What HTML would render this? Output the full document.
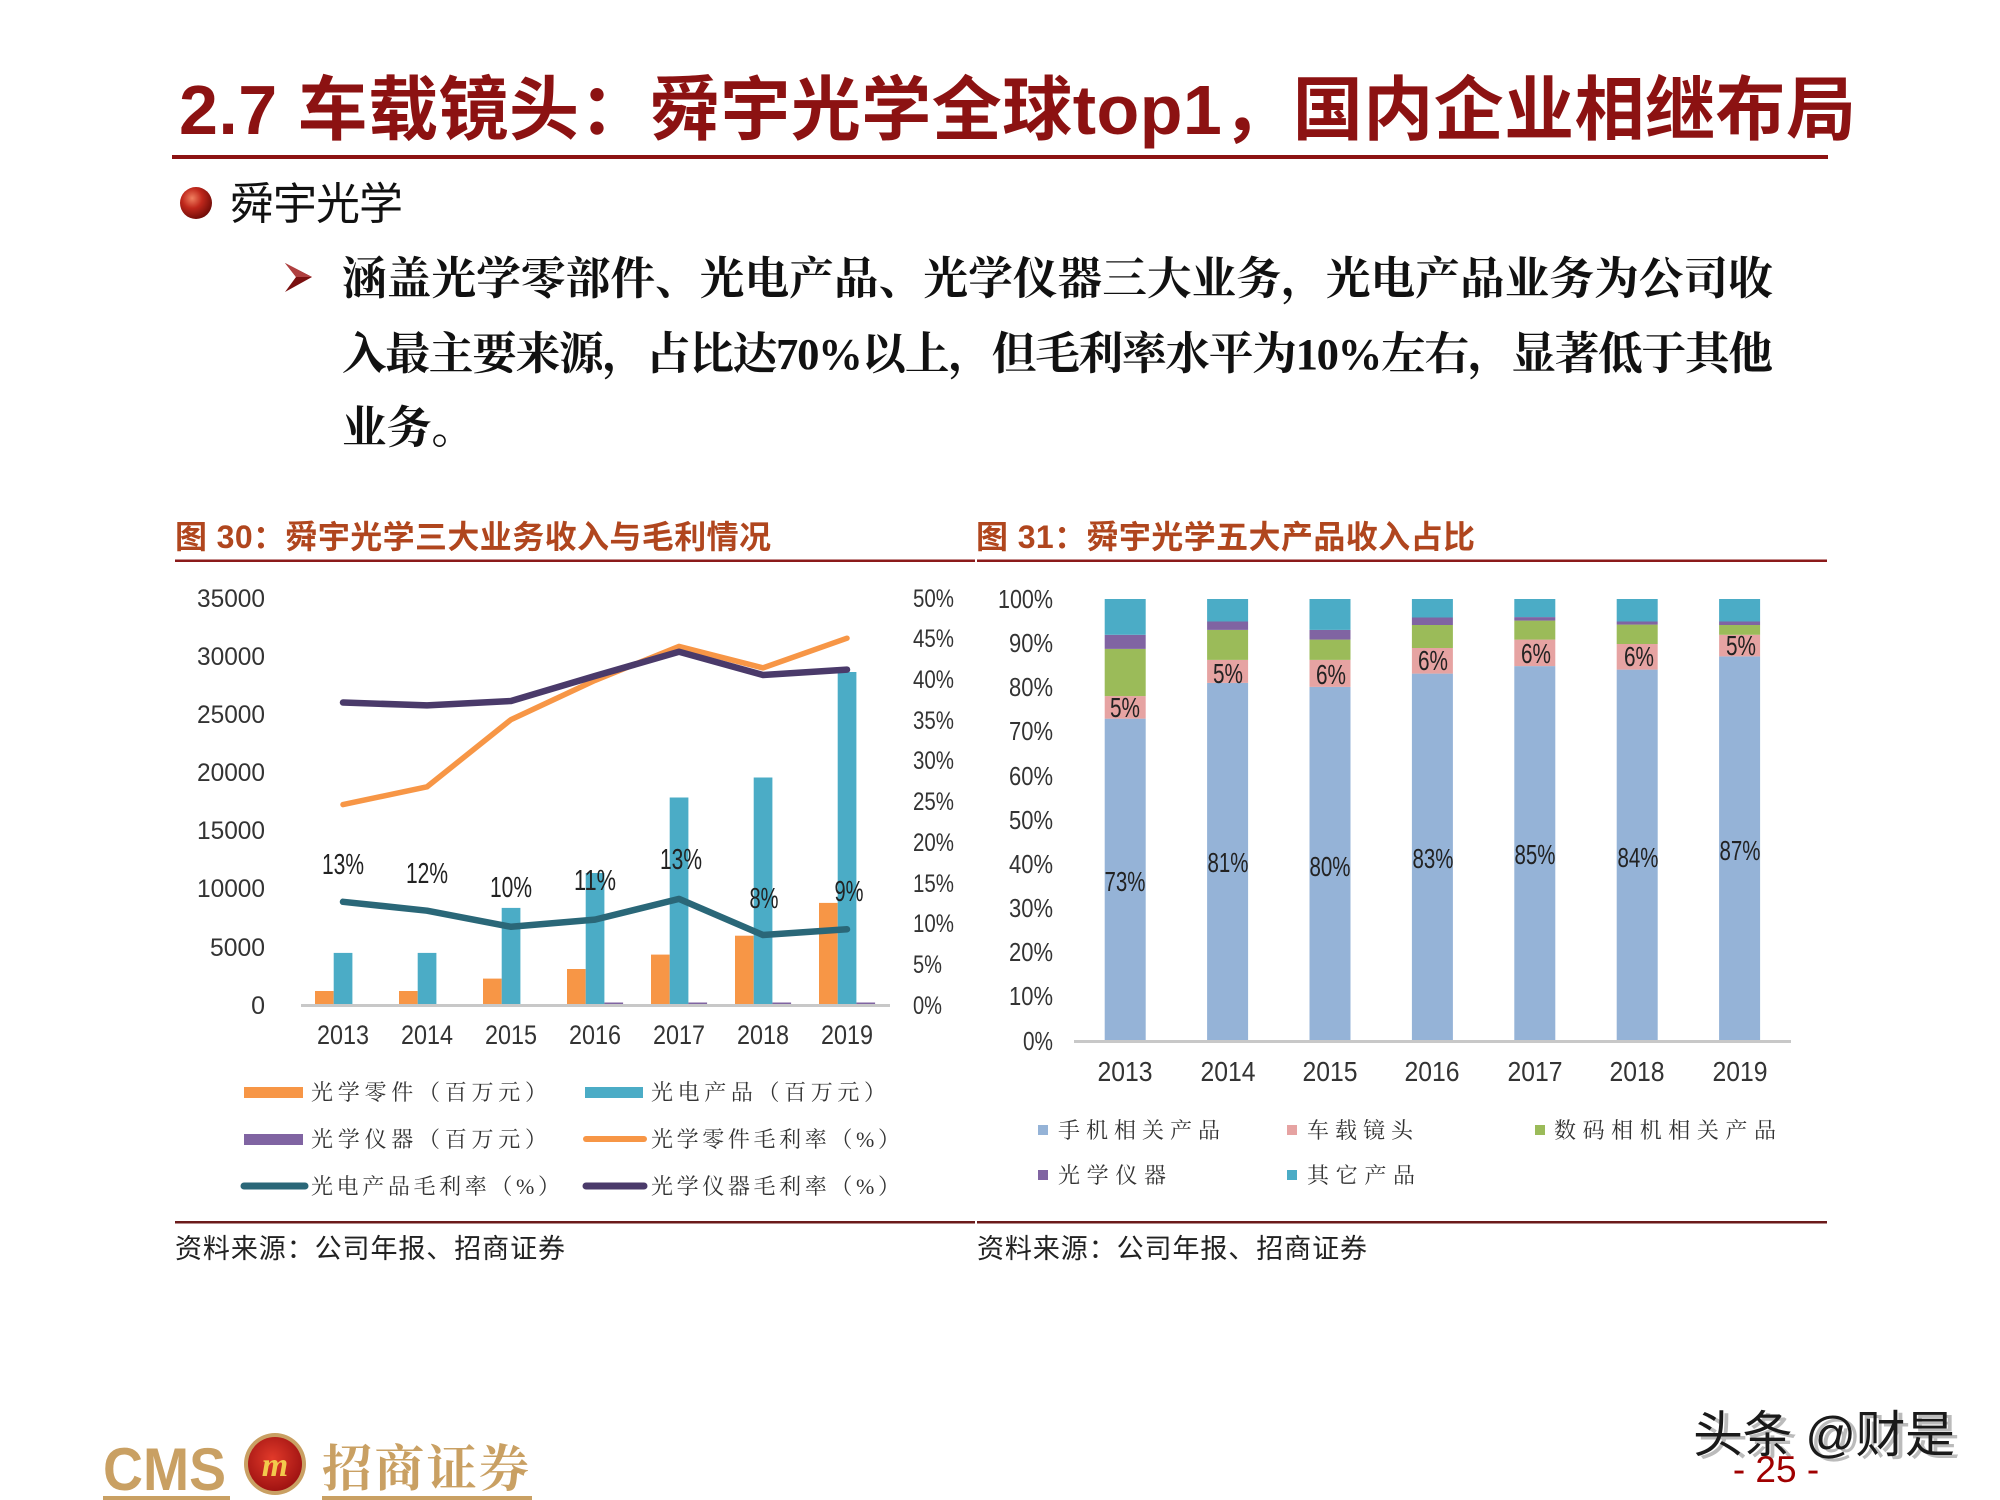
<!DOCTYPE html>
<html><head><meta charset="utf-8">
<style>
html,body{margin:0;padding:0;background:#fff;}
svg{display:block;}
.cj{font-family:"Liberation Sans","Noto Sans CJK SC",sans-serif;}
.sf{font-family:"Liberation Serif","Noto Serif CJK SC",serif;}
.ls{font-family:"Liberation Sans",sans-serif;}
</style></head>
<body>
<svg width="2000" height="1500" viewBox="0 0 2000 1500" xmlns="http://www.w3.org/2000/svg">
<defs>
<radialGradient id="ball" cx="0.38" cy="0.35" r="0.7">
<stop offset="0" stop-color="#f08060"/><stop offset="0.45" stop-color="#c0281c"/><stop offset="1" stop-color="#6a0a06"/>
</radialGradient>
<radialGradient id="logo" cx="0.45" cy="0.4" r="0.65">
<stop offset="0" stop-color="#e23a2a"/><stop offset="1" stop-color="#9a1010"/>
</radialGradient>
</defs>
<rect width="2000" height="1500" fill="#fff"/>

<!-- Title -->
<text class="cj" x="179" y="134" font-size="70" font-weight="700" fill="#8C1212" textLength="1677" lengthAdjust="spacing">2.7 车载镜头：舜宇光学全球top1，国内企业相继布局</text>
<rect x="172" y="155" width="1656" height="4" fill="#8C1212"/>

<!-- Bullet -->
<circle cx="196" cy="203" r="16" fill="url(#ball)"/>
<text class="cj" x="230" y="219" font-size="44" fill="#111" textLength="173" lengthAdjust="spacing">舜宇光学</text>

<!-- Arrow -->
<polygon points="285,263 312,277 285,292 296,277" fill="#7A1010"/>
<polygon points="285,263 312,277 296,277" fill="#b04040"/>

<text class="sf" x="342" y="294" font-size="44.7" font-weight="700" fill="#111" textLength="1431" lengthAdjust="spacing">涵盖光学零部件、光电产品、光学仪器三大业务，光电产品业务为公司收</text>
<text class="sf" x="342" y="369" font-size="44.7" font-weight="700" fill="#111" textLength="1431" lengthAdjust="spacing">入最主要来源，占比达70%以上，但毛利率水平为10%左右，显著低于其他</text>
<text class="sf" x="342" y="443" font-size="44.7" font-weight="700" fill="#111">业务。</text>

<!-- Chart titles -->
<text class="cj" x="175" y="548" font-size="32" font-weight="700" fill="#B0461E" textLength="596" lengthAdjust="spacing">图 30：舜宇光学三大业务收入与毛利情况</text>
<text class="cj" x="976" y="548" font-size="32" font-weight="700" fill="#B0461E" textLength="499" lengthAdjust="spacing">图 31：舜宇光学五大产品收入占比</text>
<rect x="175" y="559.5" width="800" height="2.5" fill="#8B1A1A"/>
<rect x="977" y="559.5" width="850" height="2.5" fill="#8B1A1A"/>

<!-- LEFT CHART -->
<g class="ls" font-size="25" fill="#333" text-anchor="end">
<text x="265" y="607" textLength="68" lengthAdjust="spacingAndGlyphs">35000</text>
<text x="265" y="665" textLength="68" lengthAdjust="spacingAndGlyphs">30000</text>
<text x="265" y="723" textLength="68" lengthAdjust="spacingAndGlyphs">25000</text>
<text x="265" y="781" textLength="68" lengthAdjust="spacingAndGlyphs">20000</text>
<text x="265" y="839" textLength="68" lengthAdjust="spacingAndGlyphs">15000</text>
<text x="265" y="897" textLength="68" lengthAdjust="spacingAndGlyphs">10000</text>
<text x="265" y="956" textLength="55" lengthAdjust="spacingAndGlyphs">5000</text>
<text x="265" y="1014">0</text>
</g>
<g class="ls" font-size="25" fill="#333">
<text x="913" y="607" textLength="41" lengthAdjust="spacingAndGlyphs">50%</text>
<text x="913" y="647" textLength="41" lengthAdjust="spacingAndGlyphs">45%</text>
<text x="913" y="688" textLength="41" lengthAdjust="spacingAndGlyphs">40%</text>
<text x="913" y="729" textLength="41" lengthAdjust="spacingAndGlyphs">35%</text>
<text x="913" y="769" textLength="41" lengthAdjust="spacingAndGlyphs">30%</text>
<text x="913" y="810" textLength="41" lengthAdjust="spacingAndGlyphs">25%</text>
<text x="913" y="851" textLength="41" lengthAdjust="spacingAndGlyphs">20%</text>
<text x="913" y="892" textLength="41" lengthAdjust="spacingAndGlyphs">15%</text>
<text x="913" y="932" textLength="41" lengthAdjust="spacingAndGlyphs">10%</text>
<text x="913" y="973" textLength="29" lengthAdjust="spacingAndGlyphs">5%</text>
<text x="913" y="1014" textLength="29" lengthAdjust="spacingAndGlyphs">0%</text>
</g>
<!-- bars -->
<g fill="#F79646">
<rect x="315" y="991" width="18.7" height="14"/>
<rect x="399" y="991" width="18.7" height="14"/>
<rect x="483" y="978.6" width="18.7" height="26.4"/>
<rect x="567" y="969" width="18.7" height="36"/>
<rect x="651" y="954.6" width="18.7" height="50.4"/>
<rect x="735" y="935.7" width="18.7" height="69.3"/>
<rect x="819" y="902.9" width="18.7" height="102.1"/>
</g>
<g fill="#4BACC6">
<rect x="333.7" y="952.9" width="18.7" height="52.1"/>
<rect x="417.7" y="952.9" width="18.7" height="52.1"/>
<rect x="501.7" y="907.9" width="18.7" height="97.1"/>
<rect x="585.7" y="873" width="18.7" height="132"/>
<rect x="669.7" y="797.5" width="18.7" height="207.5"/>
<rect x="753.7" y="777.5" width="18.7" height="227.5"/>
<rect x="837.7" y="672" width="18.7" height="333"/>
</g>
<g fill="#8064A2">
<rect x="604.4" y="1002.5" width="18.7" height="2.5"/>
<rect x="688.4" y="1002.5" width="18.7" height="2.5"/>
<rect x="772.4" y="1002.5" width="18.7" height="2.5"/>
<rect x="856.4" y="1002.5" width="18.7" height="2.5"/>
</g>
<rect x="301" y="1004" width="589" height="3" fill="#C8C8C8"/>
<!-- lines -->
<polyline points="343,804.6 427,786.8 511,719.6 595,680.4 679,646.4 763,667.9 847,638.2" fill="none" stroke="#F79646" stroke-width="5.5" stroke-linejoin="round" stroke-linecap="round"/>
<polyline points="343,702.5 427,705.4 511,701 595,676 679,651.8 763,675 847,669.6" fill="none" stroke="#4A3A6A" stroke-width="6.5" stroke-linejoin="round" stroke-linecap="round"/>
<polyline points="343,901.8 427,910.7 511,926.8 595,919.6 679,898.9 763,935 847,929.3" fill="none" stroke="#2A6778" stroke-width="6.5" stroke-linejoin="round" stroke-linecap="round"/>
<!-- data labels -->
<g class="ls" font-size="29" fill="#222" text-anchor="middle">
<text x="343" y="874" textLength="42" lengthAdjust="spacingAndGlyphs">13%</text>
<text x="427" y="883" textLength="42" lengthAdjust="spacingAndGlyphs">12%</text>
<text x="511" y="897" textLength="42" lengthAdjust="spacingAndGlyphs">10%</text>
<text x="595" y="890" textLength="42" lengthAdjust="spacingAndGlyphs">11%</text>
<text x="681" y="869" textLength="42" lengthAdjust="spacingAndGlyphs">13%</text>
<text x="764" y="908" textLength="29" lengthAdjust="spacingAndGlyphs">8%</text>
<text x="849" y="901" textLength="29" lengthAdjust="spacingAndGlyphs">9%</text>
</g>
<g class="ls" font-size="27" fill="#333" text-anchor="middle">
<text x="343" y="1044" textLength="52" lengthAdjust="spacingAndGlyphs">2013</text>
<text x="427" y="1044" textLength="52" lengthAdjust="spacingAndGlyphs">2014</text>
<text x="511" y="1044" textLength="52" lengthAdjust="spacingAndGlyphs">2015</text>
<text x="595" y="1044" textLength="52" lengthAdjust="spacingAndGlyphs">2016</text>
<text x="679" y="1044" textLength="52" lengthAdjust="spacingAndGlyphs">2017</text>
<text x="763" y="1044" textLength="52" lengthAdjust="spacingAndGlyphs">2018</text>
<text x="847" y="1044" textLength="52" lengthAdjust="spacingAndGlyphs">2019</text>
</g>
<!-- left legend -->
<g font-family="'Liberation Serif','Noto Serif CJK SC',serif" font-size="22" fill="#333">
<rect x="244" y="1087" width="59" height="11" fill="#F79646"/>
<text x="311" y="1100" textLength="236" lengthAdjust="spacing">光学零件（百万元）</text>
<rect x="585" y="1087" width="58" height="11" fill="#4BACC6"/>
<text x="651" y="1100" textLength="235" lengthAdjust="spacing">光电产品（百万元）</text>
<rect x="244" y="1134" width="59" height="11" fill="#8064A2"/>
<text x="311" y="1147" textLength="236" lengthAdjust="spacing">光学仪器（百万元）</text>
<line x1="586" y1="1139" x2="644" y2="1139" stroke="#F79646" stroke-width="6" stroke-linecap="round"/>
<text x="651" y="1147" textLength="249" lengthAdjust="spacing">光学零件毛利率（%）</text>
<line x1="244" y1="1186" x2="305" y2="1186" stroke="#2A6778" stroke-width="7" stroke-linecap="round"/>
<text x="311" y="1194" textLength="249" lengthAdjust="spacing">光电产品毛利率（%）</text>
<line x1="586" y1="1186" x2="644" y2="1186" stroke="#4A3A6A" stroke-width="7" stroke-linecap="round"/>
<text x="651" y="1194" textLength="249" lengthAdjust="spacing">光学仪器毛利率（%）</text>
</g>

<!-- RIGHT CHART -->
<g class="ls" font-size="26" fill="#333" text-anchor="end">
<text x="1053" y="608" textLength="55" lengthAdjust="spacingAndGlyphs">100%</text>
<text x="1053" y="652" textLength="44" lengthAdjust="spacingAndGlyphs">90%</text>
<text x="1053" y="696" textLength="44" lengthAdjust="spacingAndGlyphs">80%</text>
<text x="1053" y="740" textLength="44" lengthAdjust="spacingAndGlyphs">70%</text>
<text x="1053" y="785" textLength="44" lengthAdjust="spacingAndGlyphs">60%</text>
<text x="1053" y="829" textLength="44" lengthAdjust="spacingAndGlyphs">50%</text>
<text x="1053" y="873" textLength="44" lengthAdjust="spacingAndGlyphs">40%</text>
<text x="1053" y="917" textLength="44" lengthAdjust="spacingAndGlyphs">30%</text>
<text x="1053" y="961" textLength="44" lengthAdjust="spacingAndGlyphs">20%</text>
<text x="1053" y="1005" textLength="44" lengthAdjust="spacingAndGlyphs">10%</text>
<text x="1053" y="1050" textLength="30" lengthAdjust="spacingAndGlyphs">0%</text>
</g>
<!-- stacks: blue, pink, green, purple, teal -->
<g>
<rect x="1104.7" y="718.65" width="41" height="321.85" fill="#95B3D7"/>
<rect x="1104.7" y="696.1" width="41" height="22.55" fill="#E6A3A2"/>
<rect x="1104.7" y="648.9" width="41" height="47.2" fill="#9BBB59"/>
<rect x="1104.7" y="634.8" width="41" height="14.1" fill="#8064A2"/>
<rect x="1104.7" y="599" width="41" height="35.8" fill="#4BACC6"/>

<rect x="1207.1" y="682.9" width="41" height="357.6" fill="#95B3D7"/>
<rect x="1207.1" y="659.9" width="41" height="23" fill="#E6A3A2"/>
<rect x="1207.1" y="629.9" width="41" height="30" fill="#9BBB59"/>
<rect x="1207.1" y="621.5" width="41" height="8.4" fill="#8064A2"/>
<rect x="1207.1" y="599" width="41" height="22.5" fill="#4BACC6"/>

<rect x="1309.5" y="686.9" width="41" height="353.6" fill="#95B3D7"/>
<rect x="1309.5" y="659.9" width="41" height="27" fill="#E6A3A2"/>
<rect x="1309.5" y="639.6" width="41" height="20.3" fill="#9BBB59"/>
<rect x="1309.5" y="629.9" width="41" height="9.7" fill="#8064A2"/>
<rect x="1309.5" y="599" width="41" height="30.9" fill="#4BACC6"/>

<rect x="1411.9" y="673.6" width="41" height="366.9" fill="#95B3D7"/>
<rect x="1411.9" y="648" width="41" height="25.6" fill="#E6A3A2"/>
<rect x="1411.9" y="625" width="41" height="23" fill="#9BBB59"/>
<rect x="1411.9" y="617.5" width="41" height="7.5" fill="#8064A2"/>
<rect x="1411.9" y="599" width="41" height="18.5" fill="#4BACC6"/>

<rect x="1514.3" y="666.1" width="41" height="374.4" fill="#95B3D7"/>
<rect x="1514.3" y="639.6" width="41" height="26.5" fill="#E6A3A2"/>
<rect x="1514.3" y="620.6" width="41" height="19" fill="#9BBB59"/>
<rect x="1514.3" y="617.1" width="41" height="3.5" fill="#8064A2"/>
<rect x="1514.3" y="599" width="41" height="18.1" fill="#4BACC6"/>

<rect x="1616.7" y="669.6" width="41" height="370.9" fill="#95B3D7"/>
<rect x="1616.7" y="644" width="41" height="25.6" fill="#E6A3A2"/>
<rect x="1616.7" y="624.6" width="41" height="19.4" fill="#9BBB59"/>
<rect x="1616.7" y="621.5" width="41" height="3.1" fill="#8064A2"/>
<rect x="1616.7" y="599" width="41" height="22.5" fill="#4BACC6"/>

<rect x="1719.1" y="656.4" width="41" height="384.1" fill="#95B3D7"/>
<rect x="1719.1" y="634.8" width="41" height="21.6" fill="#E6A3A2"/>
<rect x="1719.1" y="625" width="41" height="9.8" fill="#9BBB59"/>
<rect x="1719.1" y="621.5" width="41" height="3.5" fill="#8064A2"/>
<rect x="1719.1" y="599" width="41" height="22.5" fill="#4BACC6"/>
</g>
<rect x="1074" y="1040" width="717" height="3" fill="#C8C8C8"/>
<g class="ls" font-size="28" fill="#222" text-anchor="middle">
<text x="1125" y="891" textLength="41" lengthAdjust="spacingAndGlyphs">73%</text>
<text x="1228" y="872" textLength="41" lengthAdjust="spacingAndGlyphs">81%</text>
<text x="1330" y="876" textLength="41" lengthAdjust="spacingAndGlyphs">80%</text>
<text x="1433" y="868" textLength="41" lengthAdjust="spacingAndGlyphs">83%</text>
<text x="1535" y="864" textLength="41" lengthAdjust="spacingAndGlyphs">85%</text>
<text x="1638" y="867" textLength="41" lengthAdjust="spacingAndGlyphs">84%</text>
<text x="1740" y="860" textLength="41" lengthAdjust="spacingAndGlyphs">87%</text>
<text x="1125" y="717" textLength="30" lengthAdjust="spacingAndGlyphs">5%</text>
<text x="1228" y="683" textLength="30" lengthAdjust="spacingAndGlyphs">5%</text>
<text x="1331" y="684" textLength="30" lengthAdjust="spacingAndGlyphs">6%</text>
<text x="1433" y="670" textLength="30" lengthAdjust="spacingAndGlyphs">6%</text>
<text x="1536" y="663" textLength="30" lengthAdjust="spacingAndGlyphs">6%</text>
<text x="1639" y="666" textLength="30" lengthAdjust="spacingAndGlyphs">6%</text>
<text x="1741" y="655" textLength="30" lengthAdjust="spacingAndGlyphs">5%</text>
</g>
<g class="ls" font-size="28" fill="#333" text-anchor="middle">
<text x="1125" y="1081" textLength="55" lengthAdjust="spacingAndGlyphs">2013</text>
<text x="1228" y="1081" textLength="55" lengthAdjust="spacingAndGlyphs">2014</text>
<text x="1330" y="1081" textLength="55" lengthAdjust="spacingAndGlyphs">2015</text>
<text x="1432" y="1081" textLength="55" lengthAdjust="spacingAndGlyphs">2016</text>
<text x="1535" y="1081" textLength="55" lengthAdjust="spacingAndGlyphs">2017</text>
<text x="1637" y="1081" textLength="55" lengthAdjust="spacingAndGlyphs">2018</text>
<text x="1740" y="1081" textLength="55" lengthAdjust="spacingAndGlyphs">2019</text>
</g>
<!-- right legend -->
<g font-family="'Liberation Serif','Noto Serif CJK SC',serif" font-size="22" fill="#333">
<rect x="1038" y="1125" width="10" height="10" fill="#95B3D7"/>
<text x="1058" y="1138" textLength="162" lengthAdjust="spacing">手机相关产品</text>
<rect x="1287" y="1125" width="10" height="10" fill="#E6A3A2"/>
<text x="1307" y="1138" textLength="106" lengthAdjust="spacing">车载镜头</text>
<rect x="1535" y="1125" width="10" height="10" fill="#9BBB59"/>
<text x="1554" y="1138" textLength="222" lengthAdjust="spacing">数码相机相关产品</text>
<rect x="1038" y="1170" width="10" height="10" fill="#8064A2"/>
<text x="1058" y="1183" textLength="108" lengthAdjust="spacing">光学仪器</text>
<rect x="1287" y="1170" width="10" height="10" fill="#4BACC6"/>
<text x="1307" y="1183" textLength="108" lengthAdjust="spacing">其它产品</text>
</g>

<!-- source lines -->
<rect x="175" y="1221" width="800" height="2.5" fill="#6B1A1A"/>
<rect x="977" y="1221" width="850" height="2.5" fill="#6B1A1A"/>
<text class="cj" x="175" y="1258" font-size="27" fill="#222" textLength="390" lengthAdjust="spacing">资料来源：公司年报、招商证券</text>
<text class="cj" x="977" y="1258" font-size="27" fill="#222" textLength="390" lengthAdjust="spacing">资料来源：公司年报、招商证券</text>

<!-- footer logo -->
<text class="ls" x="103" y="1490" font-size="60" font-weight="700" fill="#C9A063" textLength="123" lengthAdjust="spacingAndGlyphs">CMS</text>
<rect x="103" y="1496" width="127" height="4" fill="#C9A063"/>
<circle cx="275" cy="1464" r="31" fill="#C9A063"/>
<circle cx="275" cy="1464" r="27" fill="url(#logo)"/>
<text class="sf" x="275" y="1476" font-size="34" font-weight="700" font-style="italic" fill="#F2C94C" text-anchor="middle">m</text>
<text font-family="'Liberation Serif','Noto Serif CJK SC',serif" x="322" y="1486" font-size="50" font-weight="700" fill="#C9A063" textLength="207" lengthAdjust="spacing">招商证券</text>
<rect x="322" y="1496" width="210" height="4" fill="#C9A063"/>

<!-- watermark & page number -->
<text class="cj" x="1695" y="1452" font-size="50" fill="#bbb" textLength="262" lengthAdjust="spacing" transform="translate(3,3)">头条 @财是</text>
<text class="cj" x="1693" y="1452" font-size="50" fill="#1a1a1a" textLength="262" lengthAdjust="spacing">头条 @财是</text>
<text class="ls" x="1776" y="1482" font-size="37" fill="#A00000" text-anchor="middle">- 25 -</text>
</svg>
</body></html>
